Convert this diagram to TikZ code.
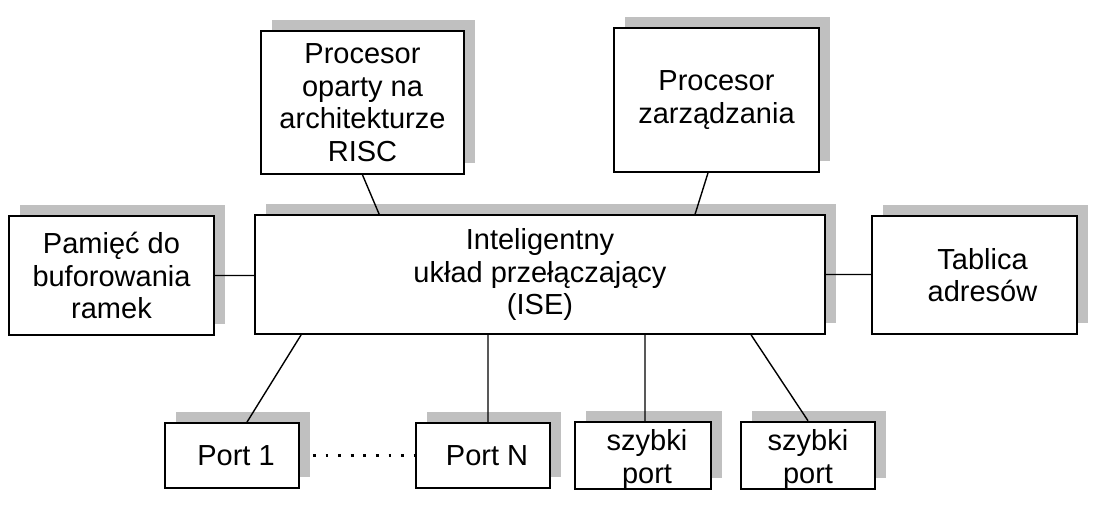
\documentclass[tikz,border=0pt]{standalone}
\usepackage{fontspec}
\setmainfont{Liberation Sans}
\usetikzlibrary{shadows, calc}
\definecolor{shadowgray}{RGB}{192,192,192}
\tikzset{
    block/.style={draw, line width=0.9pt, fill=white, align=center, inner sep=0pt,
        font=\fontsize{14.5}{16.3}\selectfont,
        general shadow={fill=shadowgray, shadow xshift=5.5pt, shadow yshift=5.5pt}}, % boxes with a gray shadow
    link/.style={line width=0.7pt}, % the connectors
    dots/.style={line width=1.4pt, dash pattern=on 1.4pt off 4.9pt}, % dotted line between ports
}

\begin{document}
\begin{tikzpicture}[x=0.5pt, y=-0.5pt]
    \useasboundingbox (0,0) rectangle (1106,512);
    \node[block, minimum width=101.5pt, minimum height=71.5pt] (risc) at (362.5,102.5) {Procesor\\oparty na\\architekturze\\RISC};
    \node[block, minimum width=102.5pt, minimum height=72pt] (mgmt) at (716.5,100) {Procesor\\zarządzania};
    \node[block, minimum width=102.5pt, minimum height=59.5pt] (mem) at (111.5,275.5) {Pamięć do\\buforowania\\ramek};
    \node[block, minimum width=285pt, minimum height=59.5pt] (ise) at (540,274.5) {Inteligentny\\układ przełączający\\(ISE)};
    \node[block, minimum width=102.5pt, minimum height=59pt] (addr) at (974.5,275) {\hspace*{8pt}Tablica\\\hspace*{8pt}adresów};
    \node[block, minimum width=67pt, minimum height=32.5pt] (port1) at (232,455.5) {\hspace*{4pt}Port 1};
    \node[block, minimum width=67pt, minimum height=32.5pt] (portn) at (483,455.5) {\hspace*{4pt}Port N};
    \node[block, minimum width=68pt, minimum height=32.5pt] (fast1) at (643,455.5) {\rule{0pt}{14.5pt}\hspace*{4pt}szybki\\\hspace*{4pt}port};
    \node[block, minimum width=67pt, minimum height=32.5pt] (fast2) at (808,455.5) {\rule{0pt}{14.5pt}szybki\\port};
    \draw[link]
    (risc.south) -- ($(ise.north west)+(125,0)$)
    ($(mgmt.south)+(-8.5,0)$) -- ($(ise.north west)+(441,0)$)
    (mem.east) -- (mem.east -| ise.west)
    (ise.east) -- (ise.east -| addr.west)
    ($(ise.south west)+(47,0)$) -- ($(port1.north)+(15,0)$)
    ($(portn.north)+(5,0)$) -- ($(portn.north |- ise.south)+(5,0)$)
    ($(fast1.north)+(2,0)$) -- ($(fast1.north |- ise.south)+(2,0)$)
    ($(ise.south west)+(497,0)$) -- (fast2.north);
    \draw[dots] ($(port1.east)+(13,0)$) -- (portn.west);
\end{tikzpicture}
\end{document}
